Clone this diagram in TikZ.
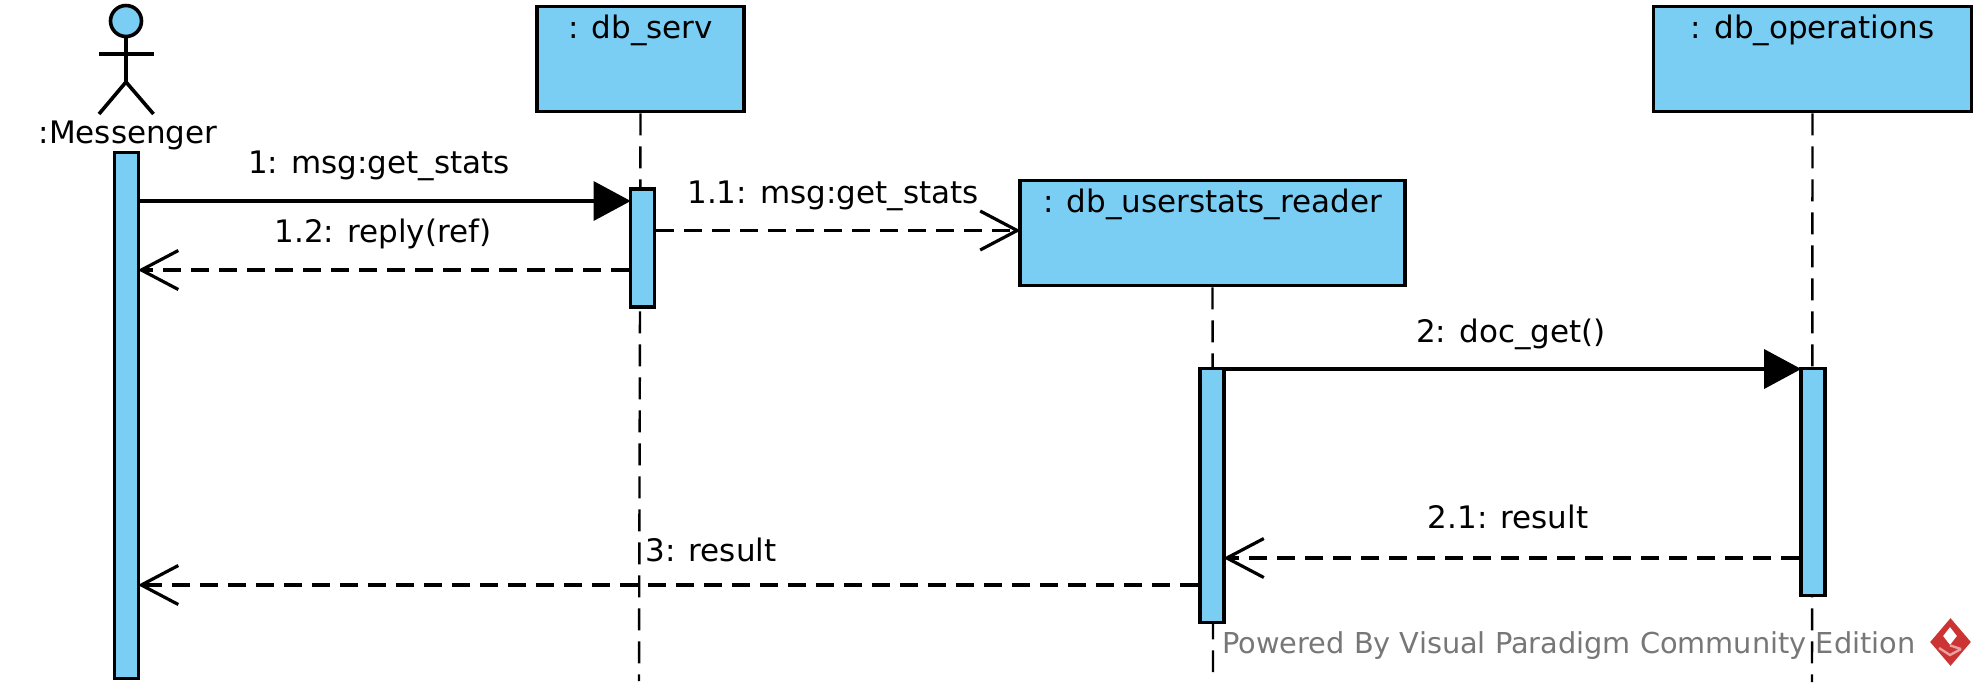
\documentclass[tikz,border=0pt]{standalone}
\usepackage{fontspec}
\setmainfont{DejaVu Sans}
\usetikzlibrary{arrows.meta,shapes.geometric}
\definecolor{lifeblue}{HTML}{7ACEF4}
\definecolor{markgray}{HTML}{777777}
\definecolor{markred}{HTML}{CC3333}
\definecolor{markpink}{HTML}{E8A0A0}
\tikzset{
	lifebox/.style={draw, fill=lifeblue, line width=1.8pt, inner xsep=0pt, inner ysep=4pt,
		text height=12pt, text depth=32.5pt, font=\fontsize{15.5}{18}\selectfont},
	activation/.style={draw, fill=lifeblue, line width=1.8pt, minimum width=12pt, inner sep=0pt},
	lifeline/.style={line width=1.2pt, dash pattern=on 11pt off 5.5pt},
	callmsg/.style={line width=1.6pt, shorten >=-1pt, -{Triangle[length=18.5pt,width=19.5pt]}},
	replymsg/.style={line width=1.6pt, dash pattern=on 9pt off 5pt, shorten >=-1.2pt, -{Straight Barb[length=18.5pt,width=19.5pt,line width=1.6pt]}},
	msglabel/.style={anchor=base, inner sep=0pt, font=\fontsize{15.5}{18}\selectfont},
	actorline/.style={line width=1.8pt},
}
\begin{document}
\begin{tikzpicture}[x=0.5pt,y=-0.5pt]
	\useasboundingbox (0,0) rectangle (1986,693);
	% actor
	\node[draw, circle, fill=lifeblue, line width=1.8pt, minimum size=15.5pt, inner sep=0pt] (head) at (126,21) {};
	\coordinate (hip) at (126,82);
	\coordinate (arml) at (99,54);
	\coordinate (armr) at (153.5,54);
	\coordinate (footl) at (99,114);
	\coordinate (footr) at (153.5,114);
	\draw[actorline] (head.south) -- (hip);
	\draw[actorline] (arml) -- (armr);
	\draw[actorline] (footl) -- (hip) -- (footr);
	\node[msglabel] (messenger) at (128,143) {:Messenger};
	% lifeline heads
	\node[lifebox, minimum width=103.5pt] (serv) at (640.5,59) {: db\_serv};
	\node[lifebox, minimum width=192.5pt] (reader) at (1212.5,233) {: db\_userstats\_reader};
	\node[lifebox, minimum width=159pt] (ops) at (1812.5,59) {: db\_operations};
	% lifelines
	\coordinate (servend) at (639,681);
	\coordinate (readerend) at (1213,672);
	\coordinate (opsend) at (1812,682);
	\draw[lifeline] (serv.south) -- (servend);
	\draw[lifeline] (reader.south) -- (readerend);
	\draw[lifeline] (ops.south) -- (opsend);
	% activation bars
	\node[activation, minimum height=263pt] (barm) at (126.5,415.5) {};
	\node[activation, minimum height=59pt] (bars) at (642.5,248) {};
	\node[activation, minimum height=127pt] (barr) at (1212,495.5) {};
	\node[activation, minimum height=113.5pt] (baro) at (1813,482) {};
	% levels
	\coordinate (l1) at (0,201);
	\coordinate (l11) at (0,230.5);
	\coordinate (l12) at (0,270);
	\coordinate (l2) at (0,369);
	\coordinate (l21) at (0,558);
	\coordinate (l3) at (0,585);
	% messages
	\draw[callmsg] (barm.east |- l1) -- (bars.west |- l1);
	\draw[replymsg] (bars.east |- l11) -- (reader.west |- l11);
	\draw[replymsg] (bars.west |- l12) -- (barm.east |- l12);
	\draw[callmsg] (barr.east |- l2) -- (baro.west |- l2);
	\draw[replymsg] (baro.west |- l21) -- (barr.east |- l21);
	\draw[replymsg] (barr.west |- l3) -- (barm.east |- l3);
	% labels
	\node[msglabel] (lab1) at (379,173) {1: msg:get\_stats};
	\node[msglabel] (lab11) at (833,203) {1.1: msg:get\_stats};
	\node[msglabel] (lab12) at (383,242) {1.2: reply(ref)};
	\node[msglabel] (lab2) at (1511,342) {2: doc\_get()};
	\node[msglabel] (lab21) at (1508,528) {2.1: result};
	\node[msglabel] (lab3) at (711,561) {3: result};
	% watermark
	\node[msglabel, anchor=base west, text=markgray, font=\fontsize{14.4}{18}\selectfont] (mark) at (1222,653) {Powered By Visual Paradigm Community Edition};
	\node[diamond, fill=markred, minimum width=20.5pt, minimum height=24pt, inner sep=0pt] (logo) at (1950.5,642) {};
	\node[diamond, fill=white, minimum width=7pt, minimum height=9pt, inner sep=0pt] (logoin) at (1950,636) {};
	\draw[markpink, line width=1.2pt] (logoin.south) -- (1961,649);
	\draw[markpink, line width=1.2pt] (1939,648) -- (1950,655) -- (1961,649);
\end{tikzpicture}
\end{document}
